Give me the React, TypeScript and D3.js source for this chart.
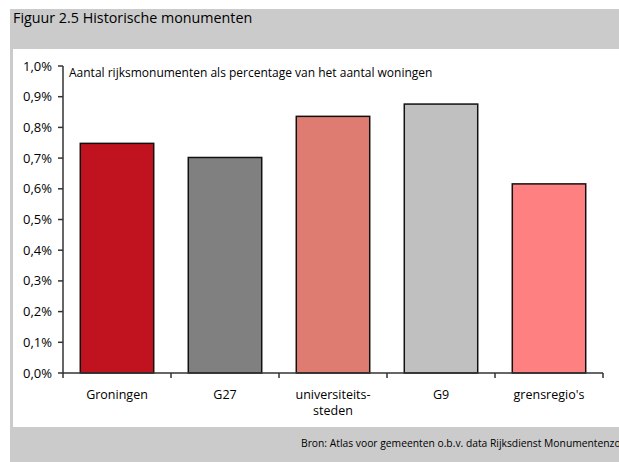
import React from "react";
import * as d3 from "d3";

const categories = ["Groningen", "G27", "universiteits-\nsteden", "G9", "grensregio's"];
const values = [0.748, 0.702, 0.836, 0.876, 0.616];
const colors = ["#C1131F", "#808080", "#DF7C72", "#C0C0C0", "#FF8080"];
const yTicks = [0, 0.1, 0.2, 0.3, 0.4, 0.5, 0.6, 0.7, 0.8, 0.9, 1.0];

const title = "Figuur 2.5 Historische monumenten";
const subtitle = "Aantal rijksmonumenten als percentage van het aantal woningen";
const source = "Bron: Atlas voor gemeenten o.b.v. data Rijksdienst Monumentenzorg";

export default function App() {
  const W = 619, H = 462;
  const x0 = 63, x1 = 603, yTop = 66, yBot = 373;
  const x = d3.scaleBand<string>().domain(categories).range([x0, x1]).paddingInner(0.32).paddingOuter(0.16);
  const y = d3.scaleLinear().domain([0, 1.0]).range([yBot, yTop]);
  const font = "'Open Sans', 'DejaVu Sans', sans-serif";
  const fmt = (v: number) => v.toFixed(1).replace(".", ",") + "%";
  const step = (x1 - x0) / categories.length;
  return (
    <svg width={W} height={H} style={{ position: "absolute", left: 0, top: 0 }} fontFamily={font}>
      <rect x={0} y={0} width={W} height={H} fill="#fff" />
      <rect x={10} y={9} width={W - 10} height={40} fill="#CBCBCB" />
      <rect x={10} y={9} width={3} height={H - 9} fill="#CBCBCB" />
      <rect x={10} y={427} width={W - 10} height={H - 427} fill="#CBCBCB" />
      <text x={13} y={23} fontSize={14.3} fill="#000">{title}</text>
      <text x={69} y={77} fontSize={12} fill="#000">{subtitle}</text>
      {categories.map((c, i) => (
        <rect key={c} x={x(c)} y={y(values[i])} width={x.bandwidth()} height={yBot - y(values[i])}
          fill={colors[i]} stroke="#111" strokeWidth={1.5} />
      ))}
      <line x1={x0} x2={x0} y1={yTop} y2={yBot} stroke="#333" strokeWidth={1.5} />
      <line x1={x0} x2={x1} y1={yBot} y2={yBot} stroke="#333" strokeWidth={1.5} />
      {yTicks.map((t) => (
        <g key={t}>
          <line x1={x0 - 5} x2={x0} y1={y(t)} y2={y(t)} stroke="#333" strokeWidth={1.5} />
          <text x={52} y={y(t)} dy="0.35em" textAnchor="end" fontSize={13} fill="#000">{fmt(t)}</text>
        </g>
      ))}
      {d3.range(categories.length + 1).map((i) => (
        <line key={i} x1={x0 + i * step} x2={x0 + i * step} y1={yBot} y2={yBot + 5} stroke="#333" strokeWidth={1.5} />
      ))}
      {categories.map((c) =>
        c.split("\n").map((line, j) => (
          <text key={c + j} x={(x(c) as number) + x.bandwidth() / 2} y={399 + j * 16}
            textAnchor="middle" fontSize={12.5} fill="#000">{line}</text>
        ))
      )}
      <text x={301} y={447} fontSize={10.3} fill="#000">{source}</text>
    </svg>
  );
}
